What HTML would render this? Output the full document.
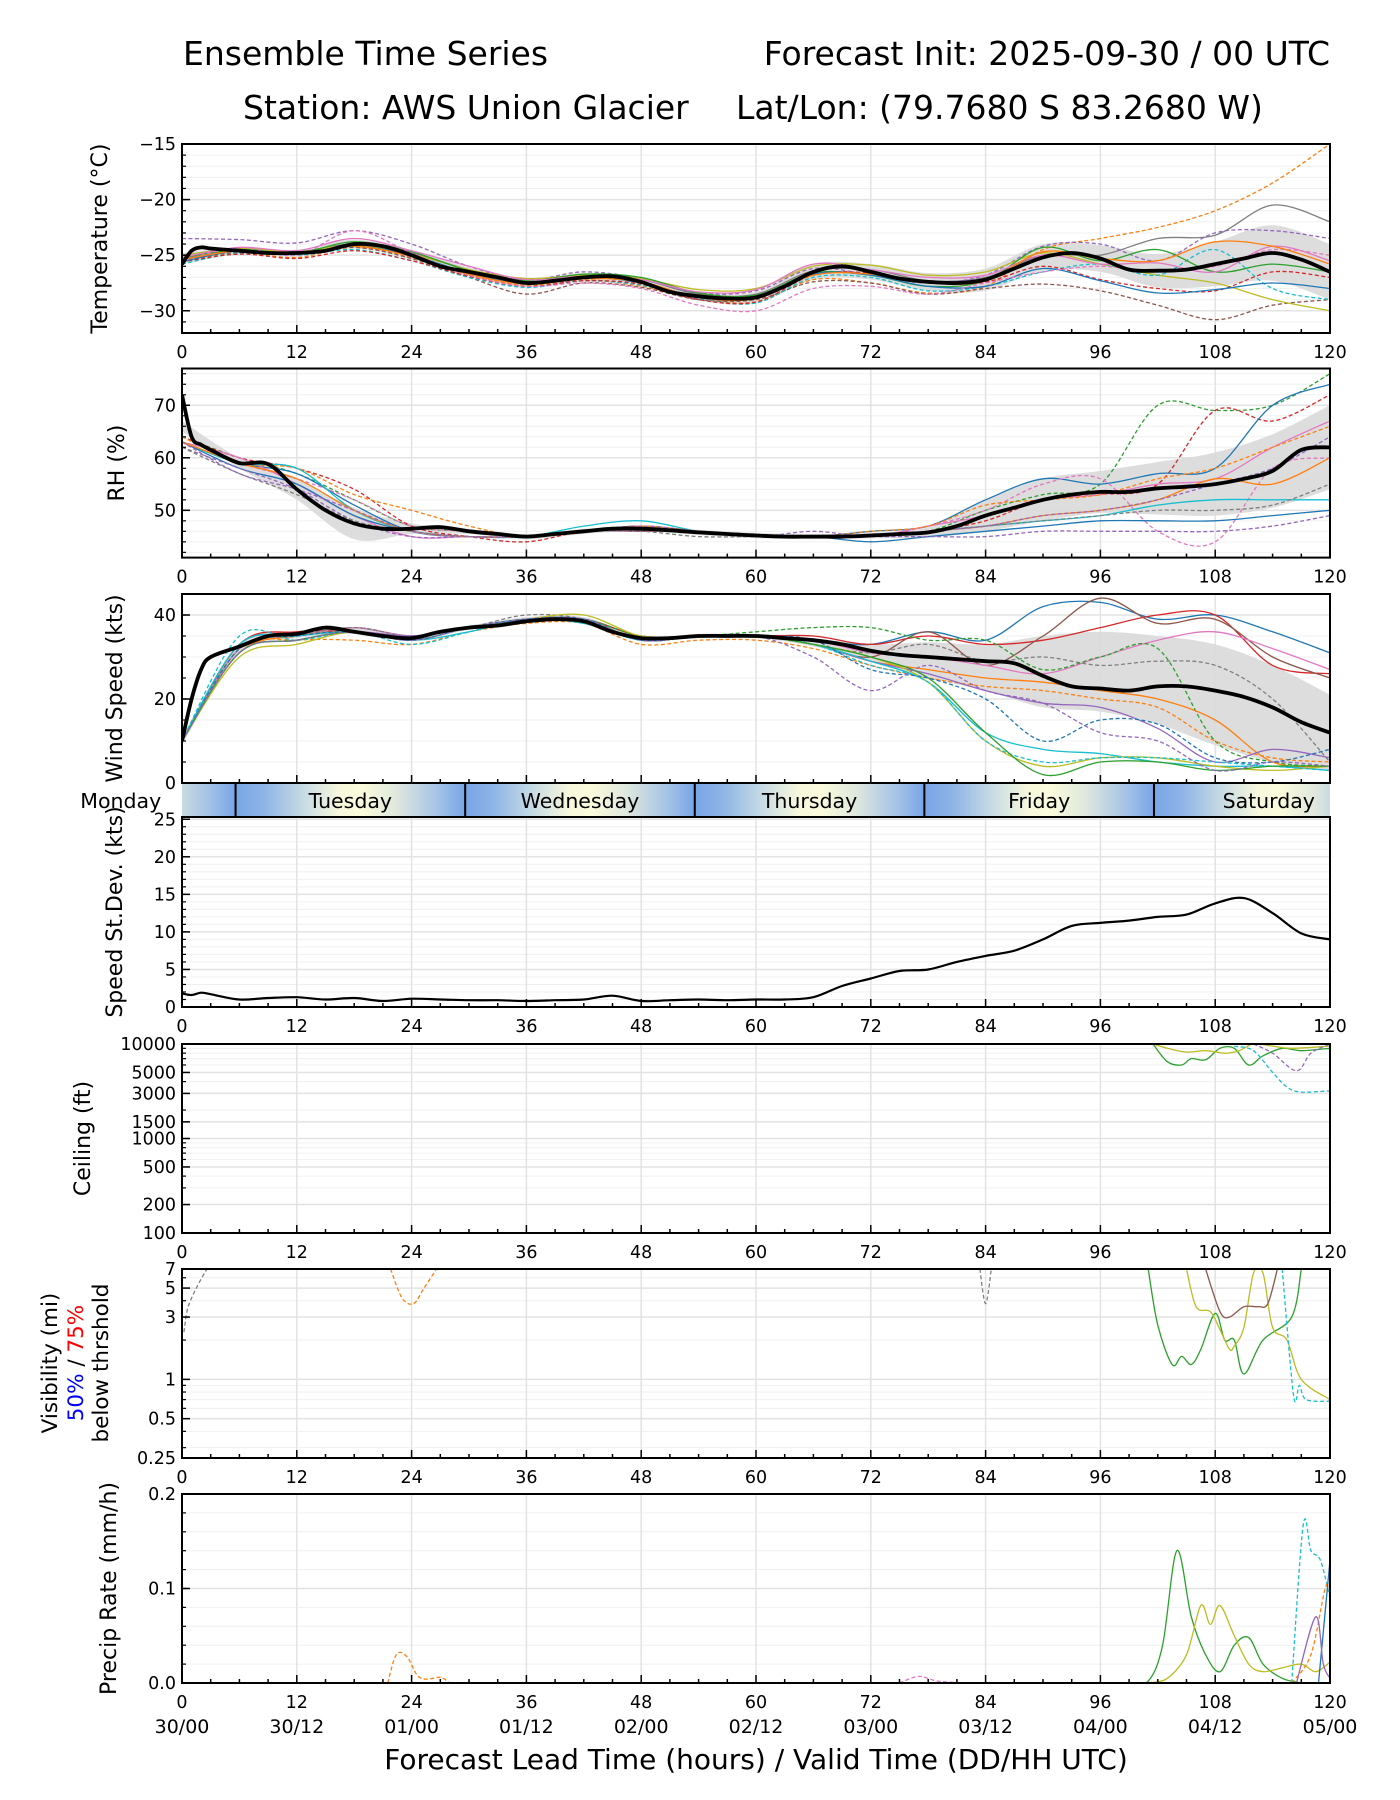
<!DOCTYPE html>
<html><head><meta charset="utf-8"><title>Ensemble Time Series</title>
<style>html,body{margin:0;padding:0;background:#fff}svg{display:block;font-family:"DejaVu Sans","Liberation Sans",sans-serif}</style>
</head><body>
<svg id="chart" xmlns="http://www.w3.org/2000/svg" width="1400" height="1800" viewBox="0 0 1400 1800">
<rect x="0" y="0" width="1400" height="1800" fill="#fff"/>
<text x="183" y="65" font-size="33">Ensemble Time Series</text>
<text x="1330" y="65" font-size="33" text-anchor="end">Forecast Init: 2025-09-30 / 00 UTC</text>
<text x="243" y="119" font-size="33">Station: AWS Union Glacier</text>
<text x="736" y="119" font-size="33">Lat/Lon: (79.7680 S 83.2680 W)</text>
<text x="756" y="1769" font-size="28" text-anchor="middle">Forecast Lead Time (hours) / Valid Time (DD/HH UTC)</text>
</svg>
<script>
// ---------- data ----------
const meanHours = [0,1,2,3,6,9,12,15,18,21,24,27,30,33,36,39,42,45,48,51,54,57,60,63,66,69,72,75,78,81,84,87,90,93,96,99,102,105,108,111,114,117,120];
const hours6 = [0,6,12,18,24,30,36,42,48,54,60,66,72,78,84,90,96,102,108,114,120];
const tempMean = [-25.8,-24.6,-24.3,-24.4,-24.6,-24.8,-24.8,-24.6,-24.0,-24.2,-25.0,-26.0,-26.5,-27.0,-27.5,-27.3,-27.0,-26.9,-27.4,-28.3,-28.7,-28.9,-28.8,-27.8,-26.5,-26.0,-26.5,-27.1,-27.4,-27.5,-27.2,-26.2,-25.2,-24.8,-25.3,-26.3,-26.4,-26.3,-25.8,-25.3,-24.8,-25.4,-26.5];
const tempMean6 = [-25.3,-24.6,-24.8,-24.0,-25.0,-26.5,-27.5,-27.0,-27.4,-28.7,-28.8,-26.5,-26.5,-27.4,-27.2,-25.2,-25.3,-26.4,-25.8,-24.8,-26.5];
const tempSpread6 = [0.5,0.3,0.3,0.4,0.4,0.4,0.4,0.4,0.4,0.4,0.5,0.7,0.7,0.8,1.0,1.2,1.2,1.5,2.0,2.5,2.5];
const tempMembers = [
[-25.5,-24.8,-25.2,-24.3,-25.2,-26.8,-27.7,-27.2,-27.8,-28.9,-29.2,-27.2,-27.5,-28.4,-27.8,-24.5,-23.5,-22.5,-21.0,-18.5,-15.0],
[-25.3,-24.5,-24.7,-24.0,-24.8,-26.3,-27.3,-26.8,-27.2,-28.5,-28.5,-26.4,-26.3,-27.3,-27.0,-25.0,-25.0,-23.5,-23.2,-20.5,-22.0],
[-23.5,-23.6,-23.9,-22.8,-24.0,-26.0,-27.2,-26.5,-27.1,-28.4,-28.2,-26.2,-26.8,-27.5,-26.8,-24.2,-24.0,-25.5,-23.0,-22.8,-23.5],
[-25.5,-24.7,-24.9,-24.3,-25.3,-27.0,-28.5,-27.5,-27.9,-29.0,-29.0,-27.4,-27.5,-28.5,-28.0,-27.6,-28.2,-29.5,-30.8,-29.5,-29.0],
[-25.0,-24.4,-24.7,-24.1,-24.9,-26.3,-27.1,-26.8,-27.1,-28.1,-28.0,-26.0,-25.9,-26.8,-26.5,-24.8,-25.8,-26.8,-27.5,-29.0,-30.0],
[-25.8,-24.8,-25.0,-24.5,-25.5,-27.0,-27.9,-27.3,-27.7,-28.9,-29.3,-27.0,-27.0,-28.2,-27.8,-26.5,-25.8,-26.8,-24.5,-28.0,-29.0],
[-25.2,-24.5,-24.8,-23.8,-24.7,-26.4,-27.3,-26.7,-27.0,-28.4,-28.6,-26.6,-26.8,-27.8,-27.3,-24.3,-25.5,-24.5,-26.5,-25.8,-26.5],
[-25.6,-24.9,-25.3,-24.6,-25.5,-26.9,-27.8,-27.3,-27.6,-29.0,-29.2,-26.8,-26.6,-27.5,-27.4,-26.0,-27.2,-28.0,-28.2,-26.5,-27.0],
[-25.6,-24.6,-24.9,-24.2,-25.0,-26.6,-27.6,-27.0,-27.5,-28.8,-28.9,-26.7,-26.8,-27.8,-27.8,-26.2,-27.3,-28.4,-28.1,-27.5,-28.0],
[-25.2,-24.3,-24.6,-23.5,-24.6,-26.0,-27.2,-26.9,-27.2,-28.3,-28.1,-25.8,-26.3,-27.0,-26.8,-25.0,-25.8,-25.7,-26.5,-24.2,-25.5],
[-25.5,-24.3,-25.0,-22.8,-24.8,-26.8,-27.8,-27.5,-28.0,-29.5,-30.0,-28.0,-27.8,-28.5,-27.5,-26.5,-26.0,-26.5,-26.0,-24.5,-25.0],
[-25.4,-24.6,-24.9,-24.2,-25.1,-26.7,-27.6,-27.1,-27.4,-28.8,-28.9,-26.8,-26.7,-27.5,-27.3,-24.7,-25.3,-25.5,-23.8,-24.2,-25.8]];
const rhMean = [72,64,62.5,61.5,59,58.8,54,50,47.5,46.5,46.5,46.8,46,45.5,45,45.5,46,46.5,46.5,46.2,45.8,45.5,45.2,45,45,45,45.2,45.5,45.8,47,49,50.5,52,53,53.5,53.5,54.2,54.5,55,56,57.5,61.5,62];
const rhMean6 = [66,59,54,47.5,46.5,46,45,46,46.5,45.8,45.2,45,45.2,45.8,49,52,53.5,54.2,55,57.5,62];
const rhSpread6 = [1,1,2,3,1,0.5,0.5,0.5,0.5,0.5,0.5,0.5,0.5,1,3,4,4,5,6,7,8];
const rhMembers = [
[64,60,57,52,47,46,45,46,47,46,45,45,45,46,50,53,55,70,69,70,76],
[64,60,58,54,47,45,44,46,46,46,45,45,45,46,48,52,53,55,69,67,72],
[63,59,57,51,46,45,45,46,47,46,45,45,46,47,52,56,55,57,58,70,74],
[63,59,56,52,47,46,45,46,47,46,45,45,45,47,50,55,56,46,44,58,60],
[63,60,55,49,45,45,45,46,47,46,45,45,45,47,49,52,53,55,56,62,67],
[64,59,58,53,50,47,45,46,47,46,45,45,46,47,51,52,53,56,58,62,66],
[63,59,58,50,46,45,45,47,48,46,45,45,45,46,47,48,49,51,52,52,52],
[63,58,55,49,46,45,45,46,47,46,45,45,44,45,46,47,48,48,48,49,50],
[62,58,54,48,45,45,45,46,46,46,45,45,45,45,45,46,46,46,46,47,49],
[63,59,56,50,46,45,45,46,47,46,45,45,45,46,47,49,50,52,56,55,60],
[62,57,53,48,46,45,45,46,46,45,45,45,45,46,47,48,49,50,50,51,55],
[63,57,54,50,46,45,45,46,47,46,45,46,45,46,47,49,50,52,55,58,64]];
const windMean = [10,20,27,30,32.5,35,35.5,37,36,35,34.5,36,37,37.5,38.5,39,38.5,36,34.5,34.5,35,35,35,34.5,34,33,31.5,30.5,30,29.5,29,28.5,25.5,23,22.5,22,23,23,22,20.5,18,14.5,12];
const windBandHi = [11,33,36,37,35,37.5,39.5,39.5,35,35.5,35.5,34.5,33,33.5,33,35,36,35,33,28,21];
const windBandLo = [9,31,34.5,35.5,34,36.5,38.5,38.5,34,34.5,34.5,32.5,29,25,22,18,17,14,9,5,3];
const windMembers = [
[10,33,35,37,35,37,39,39,35,35,35,34,33,36,34,42,43,39,40,36,31],
[10,33,36,36,35,37,39,39,35,35,35,35,33,35,33,34,37,40,40,28,26],
[10,32,35,37,35,37,39,39,34,35,35,33,30,36,28,35,44,38,39,30,25],
[10,32,35,37,35,37,39,39,34,35,35,34,31,30,28,26,30,34,36,32,27],
[10,32,35,37,35,37,40,39,34,35,35,33,31,33,29,30,28,29,28,20,5],
[10,31,34,36,34,37,39,39,35,35,36,37,37,34,34,27,30,32,10,5,4],
[10,31,35,36,34,37,39,39,34,35,35,33,29,27,25,24,22,20,15,5,4],
[10,32,34,34,33,36,38,38,33,34,34,32,28,25,23,22,20,18,10,6,5],
[10,31,34,36,35,37,39,39,34,35,35,33,29,26,22,19,18,13,5,8,6],
[10,33,35,36,34,36,39,38,34,35,35,33,29,24,12,8,7,5,4,4,3],
[10,30,33,36,34,37,39,40,35,35,35,33,30,24,10,4,6,6,4,3,4],
[10,35,34,36,33,36,39,38,34,35,35,33,28,24,10,5,6,6,5,4,3],
[10,31,34,36,34,37,39,39,34,35,35,33,30,25,12,2,5,5,3,4,4],
[10,32,35,36,34,37,39,39,34,35,35,34,27,25,20,10,15,14,6,5,8],
[10,31,34,36,34,37,39,39,34,35,35,30,22,28,22,19,12,10,3,5,4]];
const sdMean = [1.8,1.6,1.9,1.7,1.0,1.2,1.3,1.0,1.2,0.8,1.1,1.0,0.9,0.9,0.8,0.9,1.0,1.5,0.8,0.9,1.0,0.9,1.0,1.0,1.3,2.8,3.8,4.8,5.0,6.0,6.8,7.5,9.0,10.8,11.2,11.5,12.0,12.3,13.8,14.5,12.5,9.8,9.0];
const ceilGreenH = [101.5,103,104.5,105.5,107,108.5,110,111.5,113,115,117,120];
const ceilGreenV = [10000,6500,6000,7000,6800,9000,9000,6000,7500,9000,8500,9000];
const ceilOliveH = [101.5,103,105,107,109,110.5,112,114,116,120];
const ceilOliveV = [10000,9000,8200,8500,8000,8500,10000,9500,9000,9500];
const ceilCyanH = [110,112,114,115.5,117,120];
const ceilCyanV = [9500,8500,5000,3500,3100,3200];
const ceilPurpleH = [112,114,116.5,118,120];
const ceilPurpleV = [10000,8000,5200,8000,10000];
const visGreenH = [101,102,103.5,104.5,105.5,106.5,108,109,110,111,113,116,117];
const visGreenV = [7,2.6,1.3,1.5,1.3,1.7,3.2,2.0,2.0,1.1,2.0,3.0,7];
const visOliveH = [105,106,107.5,108.5,109.5,110,111,112,113,114,115.5,117,120];
const visOliveV = [7,3.6,3.3,2.4,1.7,1.8,2.5,6.5,6.5,2.5,2.0,1.0,0.7];
const visBrownH = [107,108.5,109.5,111,112.5,113.5,114.5];
const visBrownV = [7,3.3,3.0,3.6,3.6,3.8,7];
const visCyanH = [115,116.2,116.8,117.5,120];
const visCyanV = [7,0.75,0.9,0.7,0.68];
const visGrayH = [0.2,0.6,1.5,2.6];
const visGrayV = [2.3,3.5,5.0,7];
const visOrangeH = [21.8,23,24.2,25.3,26.6];
const visOrangeV = [7,4.2,3.8,5.0,7];
const visGray2H = [83.4,84,84.6];
const visGray2V = [7,3.8,7];
const prGreenH = [99,101,102.5,104,105.5,107,108.5,110,111.5,113,115,117];
const prGreenV = [0,0.002,0.04,0.14,0.07,0.03,0.012,0.04,0.048,0.02,0.005,0];
const prOliveH = [101,103,105,106.5,107.5,108.5,110,111.5,113,115,117,118.5,120];
const prOliveV = [0,0.005,0.03,0.082,0.062,0.082,0.05,0.02,0.012,0.016,0.02,0.012,0.022];
const prCyanH = [116,117.2,118,119,120];
const prCyanV = [0,0.167,0.14,0.13,0.09];
const prOrangeH = [21.5,22.4,23.5,24.6,25.6,27,28];
const prOrangeV = [0,0.03,0.028,0.008,0.004,0.006,0];
const prOrange2H = [116,118,119.5,120];
const prOrange2V = [0,0.03,0.1,0.1];
const prBlueH = [118.8,120];
const prBlueV = [0,0.13];
const prPurpleH = [116.5,118.5,119.3,120];
const prPurpleV = [0,0.07,0.02,0.005];
const prPinkH = [75,77,79,82];
const prPinkV = [0,0.007,0.002,0];
const dayNames = ["Monday","Tuesday","Wednesday","Thursday","Friday","Saturday"];
const dayStartHours = [-18.4,5.6,29.6,53.6,77.6,101.6];
const xTicks = [0,12,24,36,48,60,72,84,96,108,120];
const validLabels = ["30/00","30/12","01/00","01/12","02/00","02/12","03/00","03/12","04/00","04/12","05/00"];

// ---------- helpers ----------
const NS = "http://www.w3.org/2000/svg";
const svg = document.getElementById('chart');
const X0 = 182, X1 = 1330;
function xs(h){ return X0 + h*(X1-X0)/120; }
function linY(d0,d1,p0,p1){ return v => p0 + (v-d0)/(d1-d0)*(p1-p0); }
function logY(d0,d1,p0,p1){ return v => p0 + (Math.log(v)-Math.log(d0))/(Math.log(d1)-Math.log(d0))*(p1-p0); }
function mk(tag, attrs, parent){ const e = document.createElementNS(NS, tag); for (const k in attrs) e.setAttribute(k, attrs[k]); (parent||svg).appendChild(e); return e; }
function smooth(pts){
  if (pts.length < 2) return '';
  let d = 'M' + pts[0][0].toFixed(1) + ' ' + pts[0][1].toFixed(1);
  for (let i=0;i<pts.length-1;i++){
    const p0 = pts[Math.max(0,i-1)], p1 = pts[i], p2 = pts[i+1], p3 = pts[Math.min(pts.length-1,i+2)];
    const c1x = p1[0]+(p2[0]-p0[0])/6, c1y = p1[1]+(p2[1]-p0[1])/6;
    const c2x = p2[0]-(p3[0]-p1[0])/6, c2y = p2[1]-(p3[1]-p1[1])/6;
    d += ' C' + c1x.toFixed(1)+' '+c1y.toFixed(1)+' '+c2x.toFixed(1)+' '+c2y.toFixed(1)+' '+p2[0].toFixed(1)+' '+p2[1].toFixed(1);
  }
  return d;
}
const COLORS = ["#ff7f0e","#7f7f7f","#9467bd","#8c564b","#bcbd22","#17becf","#2ca02c","#d62728","#1f77b4","#e377c2","#e377c2","#ff7f0e","#17becf","#1f77b4","#9467bd"];
const DASHED = [true,false,true,true,false,true,false,true,false,false,true,false,true,true,true];

const panels = {};
function panel(key, top, bot, yfn, yTicks, yTickLabels, minorTicks, ylabel, ylabelX, showX){
  const p = {top, bot, y:yfn};
  panels[key] = p;
  const g = mk('g', {});
  
  
  p.g = g;
  minorTicks.forEach(v => {
    const ln = mk('line', {x1:X0, x2:X1, y1:yfn(v), y2:yfn(v), stroke:'#f0f0f0', 'stroke-width':1}, g);
    
    
  });
  yTicks.forEach(v => {
    const ln = mk('line', {x1:X0, x2:X1, y1:yfn(v), y2:yfn(v), stroke:'#e3e3e3', 'stroke-width':1.5}, g);
    
    
  });
  xTicks.forEach(h => {
    const ln = mk('line', {x1:xs(h), x2:xs(h), y1:top, y2:bot, stroke:'#e3e3e3', 'stroke-width':1.5}, g);
    
    
  });
  const cp = mk('clipPath', {id:'clip-'+key}, g);
  mk('rect', {x:X0, y:top, width:X1-X0, height:bot-top}, cp);
  p.data = mk('g', {'clip-path':'url(#clip-'+key+')'}, g);
  
  
  for (let h=0; h<=120; h+=3){
    const L = (h%12===0)?8:4;
    const t = mk('line', {x1:xs(h), x2:xs(h), y1:bot, y2:bot-L, stroke:'#000', 'stroke-width':1.5}, g);
    
    
  }
  yTicks.forEach(v => {
    const t = mk('line', {x1:X0, x2:X0+8, y1:yfn(v), y2:yfn(v), stroke:'#000', 'stroke-width':1.5}, g);
    
    
  });
  minorTicks.forEach(v => {
    const t = mk('line', {x1:X0, x2:X0+4, y1:yfn(v), y2:yfn(v), stroke:'#000', 'stroke-width':1.2}, g);
    
    
  });
  yTicks.forEach((v,i) => {
    const t = mk('text', {x:X0-6, y:yfn(v)+6, 'font-size':17.5, 'text-anchor':'end'}, g);
    t.textContent = yTickLabels[i];
    
    
  });
  if (showX !== false){
    xTicks.forEach(h => {
      const t = mk('text', {x:xs(h), y:bot+25, 'font-size':17.5, 'text-anchor':'middle'}, g);
      t.textContent = String(h);
      
      
    });
  }
  if (ylabel){
    const cy = (top+bot)/2;
    const t = mk('text', {x:ylabelX, y:cy, 'font-size':22, 'text-anchor':'middle', transform:'rotate(-90 '+ylabelX+' '+cy+')'}, g);
    t.textContent = ylabel;
    
    
  }
  return p;
}
function frame(p, key){
  const r = mk('rect', {x:X0, y:p.top, width:X1-X0, height:p.bot-p.top, fill:'none', stroke:'#000', 'stroke-width':2}, p.g);
  
  
}
function series(p, hrs, vals, color, dashed, width, name){
  const pts = hrs.map((h,i) => [xs(h), p.y(vals[i])]);
  const e = mk('path', {d:smooth(pts), fill:'none', stroke:color, 'stroke-width':width, 'stroke-dasharray':dashed?'4 2.5':'none', 'stroke-linejoin':'round'}, p.data);
  
  
  return e;
}
function band(p, hrs, lo, hi, name){
  const top = hrs.map((h,i) => [xs(h), p.y(hi[i])]);
  const botPts = hrs.map((h,i) => [xs(h), p.y(lo[i])]).reverse();
  const d = smooth(top) + ' L' + smooth(botPts).slice(1) + ' Z';
  const e = mk('path', {d, fill:'#d9d9d9', 'fill-opacity':0.9, stroke:'none'}, p.data);
  
  
}
function range(a,b,s){ const r=[]; for(let v=a; v<=b+1e-9; v+=s) r.push(+v.toFixed(4)); return r; }

// ---------- temperature ----------
const pT = panel('temperature', 144, 333, linY(-32,-15,333,144), [-15,-20,-25,-30], ['\u221215','\u221220','\u221225','\u221230'], range(-32,-15,1), 'Temperature (\u00b0C)', 107);
band(pT, hours6, tempMean6.map((v,i)=>v-tempSpread6[i]), tempMean6.map((v,i)=>v+tempSpread6[i]), 'temperature-spread-band');
tempMembers.forEach((m,i) => series(pT, hours6, m, COLORS[i], DASHED[i], 1.3, 'temperature-member-line'));
series(pT, meanHours, tempMean, '#000', false, 3.8, 'temperature-mean-line');
frame(pT, 'temperature');

// ---------- RH ----------
const pR = panel('rh', 368.5, 557.6, linY(41,77,557.6,368.5), [50,60,70], ['50','60','70'], range(42,76,2), 'RH (%)', 124);
band(pR, hours6, rhMean6.map((v,i)=>v-rhSpread6[i]), rhMean6.map((v,i)=>v+rhSpread6[i]), 'rh-spread-band');
rhMembers.forEach((m,i) => series(pR, hours6, m, COLORS[(i+6)%15], DASHED[(i+2)%15], 1.3, 'rh-member-line'));
series(pR, meanHours, rhMean, '#000', false, 3.8, 'rh-mean-line');
frame(pR, 'rh');

// ---------- wind ----------
const pW = panel('wind', 594, 783, linY(0,45,783,594), [0,20,40], ['0','20','40'], range(5,45,5), 'Wind Speed (kts)', 122, false);
band(pW, hours6, windBandLo, windBandHi, 'wind-spread-band');
windMembers.forEach((m,i) => series(pW, hours6, m, ["#1f77b4","#d62728","#8c564b","#e377c2","#7f7f7f","#2ca02c","#ff7f0e","#ff7f0e","#9467bd","#17becf","#bcbd22","#17becf","#2ca02c","#1f77b4","#9467bd"][i], [false,false,false,false,true,true,false,true,false,false,false,true,false,true,true][i], 1.3, 'wind-member-line'));
series(pW, meanHours, windMean, '#000', false, 3.8, 'wind-mean-line');
frame(pW, 'wind');

// ---------- day bar ----------
const dayG = mk('g', {});


const defs = mk('defs', {}, dayG);
const dcp = mk('clipPath', {id:'clip-day'}, defs);
mk('rect', {x:X0, y:784, width:X1-X0, height:33}, dcp);
const dayInner = mk('g', {'clip-path':'url(#clip-day)'}, dayG);
dayStartHours.forEach((b,i) => {
  const gid = 'daygrad'+i;
  const lg = mk('linearGradient', {id:gid, gradientUnits:'userSpaceOnUse', x1:xs(b), x2:xs(b+24), y1:0, y2:0}, defs);
  [['0','#78a5e6'],['0.12','#8db4e6'],['0.3','#c9dce3'],['0.45','#f6f7dc'],['0.55','#fbfbdc'],['0.7','#dfe8dd'],['0.88','#a5c3e6'],['1','#78a5e6']].forEach(s => mk('stop', {offset:s[0], 'stop-color':s[1]}, lg));
  const r = mk('rect', {x:xs(b), y:784, width:xs(b+24)-xs(b), height:33, fill:'url(#'+gid+')'}, dayInner);
  
  
  if (i>0){
    const ln = mk('line', {x1:xs(b), x2:xs(b), y1:784, y2:817, stroke:'#000', 'stroke-width':2}, dayInner);
    
    
  }
});
dayStartHours.forEach((b,i) => {
  const t = mk('text', {x:xs(b+12), y:808, 'font-size':20.5, 'text-anchor':'middle'}, dayG);
  t.textContent = dayNames[i];
  
  
});

// ---------- speed st dev ----------
const pS = panel('speed-stdev', 817, 1007, linY(0,25.3,1007,817), [0,5,10,15,20,25], ['0','5','10','15','20','25'], range(1,25,1), 'Speed St.Dev. (kts)', 122);
series(pS, meanHours, sdMean, '#000', false, 2.2, 'speed-stdev-line');
frame(pS, 'speed-stdev');

// ---------- ceiling ----------
const pC = panel('ceiling', 1044, 1233, logY(100,10000,1233,1044), [100,200,500,1000,1500,3000,5000,10000], ['100','200','500','1000','1500','3000','5000','10000'], [300,400,600,700,800,900,2000,4000,6000,7000,8000,9000], 'Ceiling (ft)', 90);
series(pC, ceilGreenH, ceilGreenV, '#2ca02c', false, 1.3, 'ceiling-member-line');
series(pC, ceilOliveH, ceilOliveV, '#bcbd22', false, 1.3, 'ceiling-member-line');
series(pC, ceilCyanH, ceilCyanV, '#17becf', true, 1.3, 'ceiling-member-line');
series(pC, ceilPurpleH, ceilPurpleV, '#9467bd', true, 1.3, 'ceiling-member-line');
frame(pC, 'ceiling');

// ---------- visibility ----------
const pV = panel('visibility', 1269, 1458, logY(0.25,7,1458,1269), [0.25,0.5,1,3,5,7], ['0.25','0.5','1','3','5','7'], [0.3,0.4,0.6,0.7,0.8,0.9,2,4,6], null, 0);
series(pV, visGreenH, visGreenV, '#2ca02c', false, 1.3, 'visibility-member-line');
series(pV, visOliveH, visOliveV, '#bcbd22', false, 1.3, 'visibility-member-line');
series(pV, visBrownH, visBrownV, '#8c564b', false, 1.3, 'visibility-member-line');
series(pV, visCyanH, visCyanV, '#17becf', true, 1.3, 'visibility-member-line');
series(pV, visGrayH, visGrayV, '#7f7f7f', true, 1.3, 'visibility-member-line');
series(pV, visOrangeH, visOrangeV, '#ff7f0e', true, 1.3, 'visibility-member-line');
series(pV, visGray2H, visGray2V, '#7f7f7f', true, 1.3, 'visibility-member-line');
frame(pV, 'visibility');
</script>
<script>
(function(){
  const NS = "http://www.w3.org/2000/svg";
  const svg = document.getElementById('chart');
  const cy = 1363;
  const lines = [[57,'Visibility (mi)'],[108,'below thrshold']];
  lines.forEach(l => {
    const t = document.createElementNS(NS,'text');
    t.setAttribute('x', l[0]); t.setAttribute('y', cy); t.setAttribute('font-size', 21.5);
    t.setAttribute('text-anchor','middle'); t.setAttribute('transform','rotate(-90 '+l[0]+' '+cy+')');
    t.textContent = l[1];
    
    
    svg.appendChild(t);
  });
  const t = document.createElementNS(NS,'text');
  t.setAttribute('x', 83); t.setAttribute('y', cy); t.setAttribute('font-size', 21.5);
  t.setAttribute('text-anchor','middle'); t.setAttribute('transform','rotate(-90 83 '+cy+')');
  t.innerHTML = '<tspan fill="#0000ff">50%</tspan> / <tspan fill="#ff0000">75%</tspan>';
  
  
  svg.appendChild(t);
})();

// ---------- precip ----------
const pP = panel('precip', 1494, 1683, linY(0,0.2,1683,1494), [0,0.1,0.2], ['0.0','0.1','0.2'], range(0.02,0.2,0.02), 'Precip Rate (mm/h)', 116);
series(pP, prGreenH, prGreenV, '#2ca02c', false, 1.3, 'precip-member-line');
series(pP, prOliveH, prOliveV, '#bcbd22', false, 1.3, 'precip-member-line');
series(pP, prCyanH, prCyanV, '#17becf', true, 1.3, 'precip-member-line');
series(pP, prOrangeH, prOrangeV, '#ff7f0e', true, 1.3, 'precip-member-line');
series(pP, prOrange2H, prOrange2V, '#ff7f0e', true, 1.3, 'precip-member-line');
series(pP, prBlueH, prBlueV, '#1f77b4', false, 1.3, 'precip-member-line');
series(pP, prPurpleH, prPurpleV, '#9467bd', false, 1.3, 'precip-member-line');
series(pP, prPinkH, prPinkV, '#e377c2', true, 1.3, 'precip-member-line');
frame(pP, 'precip');
validLabels.forEach((lab,i) => {
  const t = mk('text', {x:xs(xTicks[i]), y:1733, 'font-size':19, 'text-anchor':'middle'});
  t.textContent = lab;
  
  
});
</script>
</body></html>
